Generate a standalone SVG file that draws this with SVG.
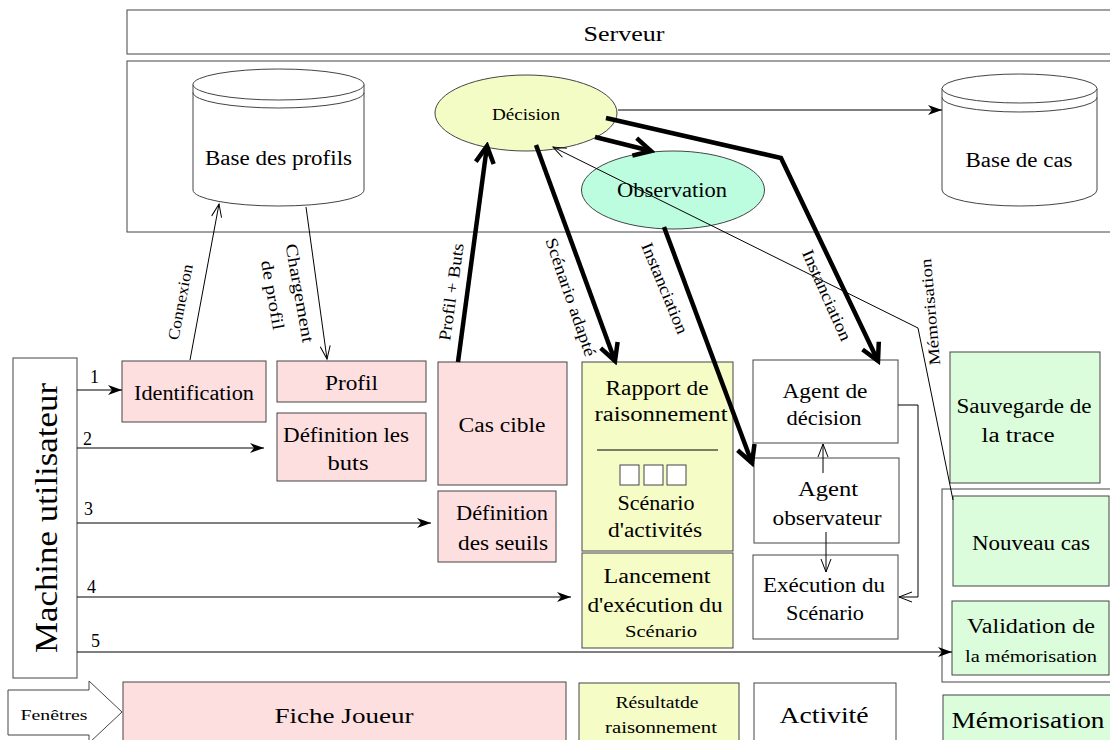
<svg xmlns="http://www.w3.org/2000/svg" width="1110" height="740" viewBox="0 0 1110 740" font-family="'Liberation Serif', Tinos, 'DejaVu Serif', serif">
  <style>
    text { font-family: "Liberation Serif", Tinos, "DejaVu Serif", serif; fill: #000; }
    .box { stroke: #444; stroke-width: 1; }
    .white { fill: #fff; }
    .pink { fill: #fedfe0; }
    .yellow { fill: #f5fcc6; }
    .green { fill: #dcfddc; }
    .mint { fill: #bcfde0; }
    .thin { fill: none; stroke: #000; stroke-width: 1; }
    .thick { fill: none; stroke: #000; stroke-width: 4.5; }
    .c { text-anchor: middle; }
  </style>
  <defs>
    <marker id="arrowThin" markerUnits="userSpaceOnUse" markerWidth="16" markerHeight="12" refX="14" refY="6" orient="auto">
      <path d="M0,1 L14,6 L0,11 L4,6 Z" fill="#000"/>
    </marker>
    <marker id="arrowOpen" markerUnits="userSpaceOnUse" markerWidth="16" markerHeight="12" refX="14" refY="6" orient="auto">
      <path d="M1,1 L14,6 L1,11" fill="none" stroke="#000" stroke-width="1"/>
    </marker>
    <marker id="arrowThick" markerUnits="userSpaceOnUse" markerWidth="24" markerHeight="24" refX="20" refY="12" orient="auto">
      <path d="M3,3 L20,12 L3,21" fill="none" stroke="#000" stroke-width="4.5" stroke-linejoin="miter"/>
    </marker>
  </defs>

  <rect width="1110" height="740" fill="#fff"/>

  <!-- server banner and server area -->
  <g id="serveur">
    <rect class="box white" x="127" y="10" width="1000" height="44"/>
    <text class="c" x="624" y="41" font-size="22" textLength="81" lengthAdjust="spacingAndGlyphs">Serveur</text>
  </g>
  <g id="zone-serveur">
    <rect class="box white" x="127" y="61" width="1000" height="171"/>
  </g>

  <!-- databases -->
  <g id="base-profils">
    <path class="box white" d="M193,84.5 L193,190 A85.5,16 0 0 0 364,190 L364,84.5"/>
    <ellipse class="box white" cx="278.5" cy="84.5" rx="85.5" ry="15.5"/>
    <path class="box" fill="none" d="M193,92.5 A85.5,15.5 0 0 0 364,92.5"/>
    <text class="c" x="278.5" y="165" font-size="20" textLength="147" lengthAdjust="spacingAndGlyphs">Base des profils</text>
  </g>
  <g id="base-cas">
    <path class="box white" d="M942,88.5 L942,190 A77.5,16 0 0 0 1097,190 L1097,88.5"/>
    <ellipse class="box white" cx="1019.5" cy="88.5" rx="77.5" ry="14.5"/>
    <path class="box" fill="none" d="M942,97.5 A77.5,14.5 0 0 0 1097,97.5"/>
    <text class="c" x="1019" y="167" font-size="20" textLength="107" lengthAdjust="spacingAndGlyphs">Base de cas</text>
  </g>

  <!-- processes -->
  <g id="decision">
    <ellipse class="box" cx="526" cy="113" rx="91" ry="38" fill="#f4fcc5"/>
    <text class="c" x="526" y="120" font-size="16" textLength="68" lengthAdjust="spacingAndGlyphs">Décision</text>
  </g>
  <g id="observation">
    <ellipse class="box mint" cx="673" cy="190" rx="91.5" ry="39"/>
    <text class="c" x="672" y="197" font-size="20" textLength="110" lengthAdjust="spacingAndGlyphs">Observation</text>
  </g>

  <!-- client machine -->
  <g id="machine-utilisateur">
    <rect class="box white" x="13" y="358" width="64" height="320"/>
    <text class="c" transform="translate(46,518) rotate(-90)" x="0" y="0" dy="0.35em" font-size="31" textLength="270" lengthAdjust="spacingAndGlyphs">Machine utilisateur</text>
  </g>

  <!-- player sheet -->
  <g id="identification">
    <rect class="box pink" x="122" y="361" width="144" height="61"/>
    <text class="c" x="194" y="400" font-size="20" textLength="120" lengthAdjust="spacingAndGlyphs">Identification</text>
  </g>
  <g id="profil">
    <rect class="box pink" x="277" y="361" width="149" height="41"/>
    <text class="c" x="351.5" y="390" font-size="20" textLength="53" lengthAdjust="spacingAndGlyphs">Profil</text>
  </g>
  <g id="definition-buts">
    <rect class="box pink" x="277" y="413" width="149" height="68"/>
    <text class="c" x="346" y="442" font-size="20" textLength="126" lengthAdjust="spacingAndGlyphs">Définition  les</text>
    <text class="c" x="348" y="470" font-size="20" textLength="41" lengthAdjust="spacingAndGlyphs">buts</text>
  </g>
  <g id="cas-cible">
    <rect class="box pink" x="438" y="362" width="129" height="123"/>
    <text class="c" x="502" y="432" font-size="20" textLength="87" lengthAdjust="spacingAndGlyphs">Cas cible</text>
  </g>
  <g id="definition-seuils">
    <rect class="box pink" x="438" y="491" width="118" height="71"/>
    <text class="c" x="502" y="520" font-size="20" textLength="92" lengthAdjust="spacingAndGlyphs">Définition</text>
    <text class="c" x="503" y="550" font-size="20" textLength="90" lengthAdjust="spacingAndGlyphs">des seuils</text>
  </g>

  <!-- reasoning report -->
  <g id="rapport-raisonnement">
    <rect class="box yellow" x="582" y="362" width="151" height="189"/>
    <text class="c" x="657" y="395" font-size="20" textLength="103" lengthAdjust="spacingAndGlyphs">Rapport de</text>
    <text class="c" x="661" y="421" font-size="20" textLength="133" lengthAdjust="spacingAndGlyphs">raisonnement</text>
    <line x1="597" y1="450" x2="718" y2="450" stroke="#000" stroke-width="1"/>
    <rect class="box white" x="620" y="465" width="19" height="20"/>
    <rect class="box white" x="644" y="465" width="19" height="20"/>
    <rect class="box white" x="667" y="465" width="19" height="20"/>
    <text class="c" x="656" y="510" font-size="20" textLength="77" lengthAdjust="spacingAndGlyphs">Scénario</text>
    <text class="c" x="655" y="537" font-size="20" textLength="94" lengthAdjust="spacingAndGlyphs">d'activités</text>
  </g>
  <g id="lancement">
    <rect class="box yellow" x="582" y="553" width="151" height="95"/>
    <text class="c" x="657" y="583" font-size="20" textLength="107" lengthAdjust="spacingAndGlyphs">Lancement</text>
    <text class="c" x="655" y="612" font-size="20" textLength="135" lengthAdjust="spacingAndGlyphs">d'exécution  du</text>
    <text class="c" x="661" y="637" font-size="16" textLength="72" lengthAdjust="spacingAndGlyphs">Scénario</text>
  </g>

  <!-- activity agents -->
  <g id="agent-decision">
    <rect class="box white" x="753" y="360" width="145" height="83"/>
    <text class="c" x="825" y="398" font-size="20" textLength="85" lengthAdjust="spacingAndGlyphs">Agent de</text>
    <text class="c" x="824" y="425" font-size="20" textLength="75" lengthAdjust="spacingAndGlyphs">décision</text>
  </g>
  <g id="agent-observateur">
    <rect class="box white" x="754" y="458" width="145" height="85"/>
    <text class="c" x="828" y="496" font-size="20" textLength="60" lengthAdjust="spacingAndGlyphs">Agent</text>
    <text class="c" x="827" y="525" font-size="20" textLength="109" lengthAdjust="spacingAndGlyphs">observateur</text>
  </g>
  <g id="execution-scenario">
    <rect class="box white" x="753" y="555" width="145" height="84"/>
    <text class="c" x="824" y="592" font-size="20" textLength="122" lengthAdjust="spacingAndGlyphs">Exécution  du</text>
    <text class="c" x="825" y="620" font-size="20" textLength="78" lengthAdjust="spacingAndGlyphs">Scénario</text>
  </g>

  <!-- memorisation -->
  <g id="sauvegarde-trace">
    <rect class="box green" x="950" y="352" width="150" height="131"/>
    <text class="c" x="1024" y="413" font-size="20" textLength="135" lengthAdjust="spacingAndGlyphs">Sauvegarde de</text>
    <text class="c" x="1018" y="442" font-size="20" textLength="73" lengthAdjust="spacingAndGlyphs">la trace</text>
  </g>
  <g id="groupe-memorisation">
    <rect class="box white" x="942" y="489" width="190" height="193"/>
  </g>
  <g id="nouveau-cas">
    <rect class="box green" x="953" y="496" width="156" height="90"/>
    <text class="c" x="1031" y="550" font-size="20" textLength="118" lengthAdjust="spacingAndGlyphs">Nouveau  cas</text>
  </g>
  <g id="validation-memorisation">
    <rect class="box green" x="952" y="601" width="157" height="74"/>
    <text class="c" x="1031" y="633" font-size="20" textLength="128" lengthAdjust="spacingAndGlyphs">Validation de</text>
    <text class="c" x="1031" y="662" font-size="16" textLength="132" lengthAdjust="spacingAndGlyphs">la  mémorisation</text>
  </g>

  <!-- window legend -->
  <g id="fenetres">
    <polygon class="box white" points="8,690 89,690 89,681 122,712 89,743 89,735 8,735"/>
    <text class="c" x="54" y="720" font-size="14" textLength="67" lengthAdjust="spacingAndGlyphs">Fenêtres</text>
  </g>
  <g id="fiche-joueur">
    <rect class="box pink" x="123" y="682" width="443" height="70"/>
    <text class="c" x="344" y="723" font-size="22" textLength="139" lengthAdjust="spacingAndGlyphs">Fiche Joueur</text>
  </g>
  <g id="resultat-raisonnement">
    <rect class="box yellow" x="579" y="683" width="160" height="70"/>
    <text class="c" x="657" y="708" font-size="16" textLength="83" lengthAdjust="spacingAndGlyphs">Résultatde</text>
    <text class="c" x="661" y="733" font-size="16" textLength="112" lengthAdjust="spacingAndGlyphs">raisonnement</text>
  </g>
  <g id="activite">
    <rect class="box white" x="754" y="683" width="142" height="70"/>
    <text class="c" x="824" y="723" font-size="24" textLength="89" lengthAdjust="spacingAndGlyphs">Activité</text>
  </g>
  <g id="memorisation">
    <rect class="box green" x="943" y="695" width="180" height="60"/>
    <text class="c" x="1028" y="728" font-size="24" textLength="153" lengthAdjust="spacingAndGlyphs">Mémorisation</text>
  </g>

  <!-- connectors -->
  <g id="connecteurs">
    <line class="thin" x1="77" y1="390" x2="122" y2="390" marker-end="url(#arrowThin)"/>
    <line class="thin" x1="77" y1="448" x2="264" y2="448" marker-end="url(#arrowThin)"/>
    <line class="thin" x1="77" y1="523" x2="431" y2="523" marker-end="url(#arrowThin)"/>
    <line class="thin" x1="77" y1="597" x2="571" y2="597" marker-end="url(#arrowThin)"/>
    <line class="thin" x1="77" y1="652" x2="952" y2="652" marker-end="url(#arrowThin)"/>

    <line class="thin" x1="190" y1="360" x2="219" y2="204" marker-end="url(#arrowOpen)"/>
    <line class="thin" x1="306" y1="207" x2="327" y2="359" marker-end="url(#arrowOpen)"/>

    <line class="thick" x1="458" y1="362" x2="487" y2="146" marker-end="url(#arrowThick)"/>
    <line class="thick" x1="536" y1="145" x2="615" y2="361" marker-end="url(#arrowThick)"/>
    <line class="thick" x1="595" y1="137" x2="651" y2="151" marker-end="url(#arrowThick)"/>
    <polyline class="thick" points="606,118 781,158 878,361" marker-end="url(#arrowThick)"/>
    <line class="thick" x1="664" y1="227" x2="752" y2="463" marker-end="url(#arrowThick)"/>

    <line class="thin" x1="618" y1="110" x2="942" y2="110" marker-end="url(#arrowThin)"/>
    <polyline class="thin" points="953,500 918,328 553,147" marker-end="url(#arrowOpen)"/>

    <line class="thin" x1="823" y1="473" x2="823" y2="444" marker-end="url(#arrowOpen)"/>
    <line class="thin" x1="826" y1="532" x2="826" y2="572" marker-end="url(#arrowOpen)"/>
    <polyline class="thin" points="898,405 918,405 918,597 899,597" marker-end="url(#arrowOpen)"/>

    <!-- step numbers -->
    <text x="90" y="383" font-size="18">1</text>
    <text x="83" y="445" font-size="18">2</text>
    <text x="84" y="515" font-size="18">3</text>
    <text x="87" y="593" font-size="18">4</text>
    <text x="91" y="647" font-size="18">5</text>

    <!-- connector labels -->
    <text class="c" transform="translate(180,302) rotate(-79)" dy="0.35em" font-size="16" textLength="77" lengthAdjust="spacingAndGlyphs">Connexion</text>
    <text class="c" transform="translate(300,293) rotate(80)" dy="0.35em" font-size="17" textLength="100" lengthAdjust="spacingAndGlyphs">Chargement</text>
    <text class="c" transform="translate(273,295) rotate(80)" dy="0.35em" font-size="17" textLength="70" lengthAdjust="spacingAndGlyphs">de profil</text>
    <text class="c" transform="translate(451,292) rotate(-82)" dy="0.35em" font-size="17" textLength="98" lengthAdjust="spacingAndGlyphs">Profil + Buts</text>
    <text class="c" transform="translate(571,297) rotate(71)" dy="0.35em" font-size="17" textLength="124" lengthAdjust="spacingAndGlyphs">Scénario adapté</text>
    <text class="c" transform="translate(665,288) rotate(67.5)" dy="0.35em" font-size="17" textLength="97" lengthAdjust="spacingAndGlyphs">Instanciation</text>
    <text class="c" transform="translate(827,295) rotate(66)" dy="0.35em" font-size="17" textLength="98" lengthAdjust="spacingAndGlyphs">Instanciation</text>
    <text class="c" transform="translate(930,312) rotate(-95)" dy="0.35em" font-size="16" textLength="107" lengthAdjust="spacingAndGlyphs">Mémorisation</text>
  </g>
</svg>
